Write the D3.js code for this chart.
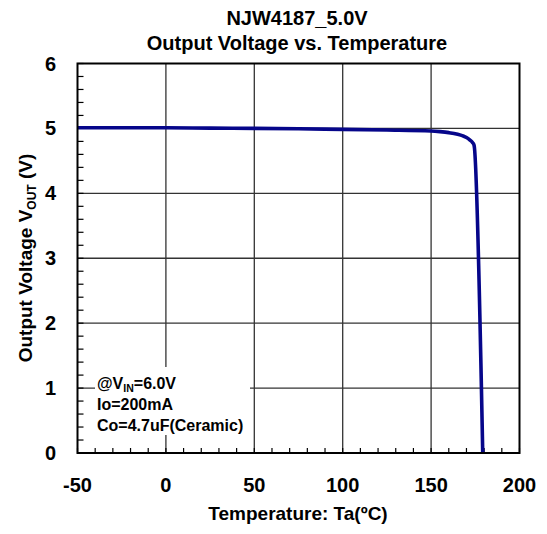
<!DOCTYPE html>
<html><head><meta charset="utf-8">
<script src="https://cdn.jsdelivr.net/npm/d3@7"></script>
<style>
html,body{margin:0;padding:0;background:#fff;}
svg text{font-family:"Liberation Sans",Arial,sans-serif;font-weight:bold;fill:#000;}
</style></head>
<body>
<svg id="chart" width="547" height="534"></svg>
<script>
const temperature = [-50, -25, 0, 25, 50, 75, 100, 125, 150, 155, 160, 165, 168, 170, 172, 173.5, 174.3, 179.2];
const vout        = [5.01, 5.01, 5.01, 5.005, 5.0, 4.995, 4.985, 4.975, 4.96, 4.95, 4.935, 4.91, 4.885, 4.86, 4.82, 4.78, 4.74, 0];
const xTicks = [-50, 0, 50, 100, 150, 200];
const yTicks = [0, 1, 2, 3, 4, 5, 6];
const titleLines = ["NJW4187_5.0V", "Output Voltage vs. Temperature"];
const conditions = [["@V", "IN", "=6.0V"], ["Io=200mA"], ["Co=4.7uF(Ceramic)"]];

const svg = d3.select("#chart");
const L = 77.5, R = 519.5, T = 63.5, B = 453;
const x = d3.scaleLinear().domain([-50, 200]).range([L, R]);
const y = d3.scaleLinear().domain([0, 6]).range([B, T]);

// title
svg.selectAll("text.title").data(titleLines).join("text")
  .attr("class", "title")
  .attr("x", 297).attr("y", (d, i) => 25 + i * 25)
  .attr("text-anchor", "middle").style("font-size", "20px").text(d => d);

// grid
const g = svg.append("g");
g.selectAll("line.vg").data(xTicks.slice(1, -1)).join("line")
  .attr("x1", d => x(d)).attr("x2", d => x(d)).attr("y1", T).attr("y2", B)
  .attr("stroke", "#333").attr("stroke-width", 1.3);
g.selectAll("line.hg").data(yTicks.slice(1, -1)).join("line")
  .attr("y1", d => y(d)).attr("y2", d => y(d)).attr("x1", L).attr("x2", R)
  .attr("stroke", "#333").attr("stroke-width", 1.3);

// legend background
svg.append("rect").attr("x", 95).attr("y", 367).attr("width", 155).attr("height", 68).attr("fill", "#fff");

// minor ticks
const xMinor = d3.range(-50, 201, 10);
svg.selectAll("line.xm").data(xMinor).join("line")
  .attr("x1", d => x(d)).attr("x2", d => x(d)).attr("y1", B).attr("y2", B - 5)
  .attr("stroke", "#000").attr("stroke-width", 1.2);
const yMinor = d3.range(0, 6.01, 0.2);
svg.selectAll("line.ym").data(yMinor).join("line")
  .attr("y1", d => y(d)).attr("y2", d => y(d)).attr("x1", L).attr("x2", L + 6)
  .attr("stroke", "#000").attr("stroke-width", 1.2);

// curve
const data = temperature.map((t, i) => [t, vout[i]]);
svg.append("path").datum(data)
  .attr("d", d3.line().x(d => x(d[0])).y(d => y(d[1])).curve(d3.curveMonotoneX))
  .attr("fill", "none").attr("stroke", "#06068a").attr("stroke-width", 3.6)
  .attr("stroke-linejoin", "round").attr("stroke-linecap", "butt");

// frame
svg.append("rect").attr("x", L).attr("y", T).attr("width", R - L).attr("height", B - T)
  .attr("fill", "none").attr("stroke", "#000").attr("stroke-width", 2);

// tick labels
svg.selectAll("text.xt").data(xTicks).join("text")
  .attr("class", "xt").attr("x", d => x(d)).attr("y", 492)
  .attr("text-anchor", "middle").style("font-size", "20px").text(d => d);
svg.selectAll("text.yt").data(yTicks).join("text")
  .attr("class", "yt").attr("x", 56).attr("y", d => y(d) + 7)
  .attr("text-anchor", "end").style("font-size", "20px").text(d => d);

// axis titles
svg.append("text").attr("x", 298).attr("y", 520).attr("text-anchor", "middle")
  .style("font-size", "19px").text("Temperature: Ta(ºC)");
const yt = svg.append("text").attr("transform", "translate(32,258) rotate(-90)")
  .attr("text-anchor", "middle").style("font-size", "19px");
yt.append("tspan").text("Output Voltage V");
yt.append("tspan").attr("dy", 4).style("font-size", "12px").text("OUT");
yt.append("tspan").attr("dy", -4).text(" (V)");

// conditions
conditions.forEach((parts, i) => {
  const t = svg.append("text").attr("x", 97).attr("y", 389 + i * 21).style("font-size", "16px");
  if (parts.length === 1) { t.text(parts[0]); return; }
  t.append("tspan").text(parts[0]);
  t.append("tspan").attr("dy", 3).style("font-size", "10.5px").text(parts[1]);
  t.append("tspan").attr("dy", -3).text(parts[2]);
});
</script>
</body></html>
